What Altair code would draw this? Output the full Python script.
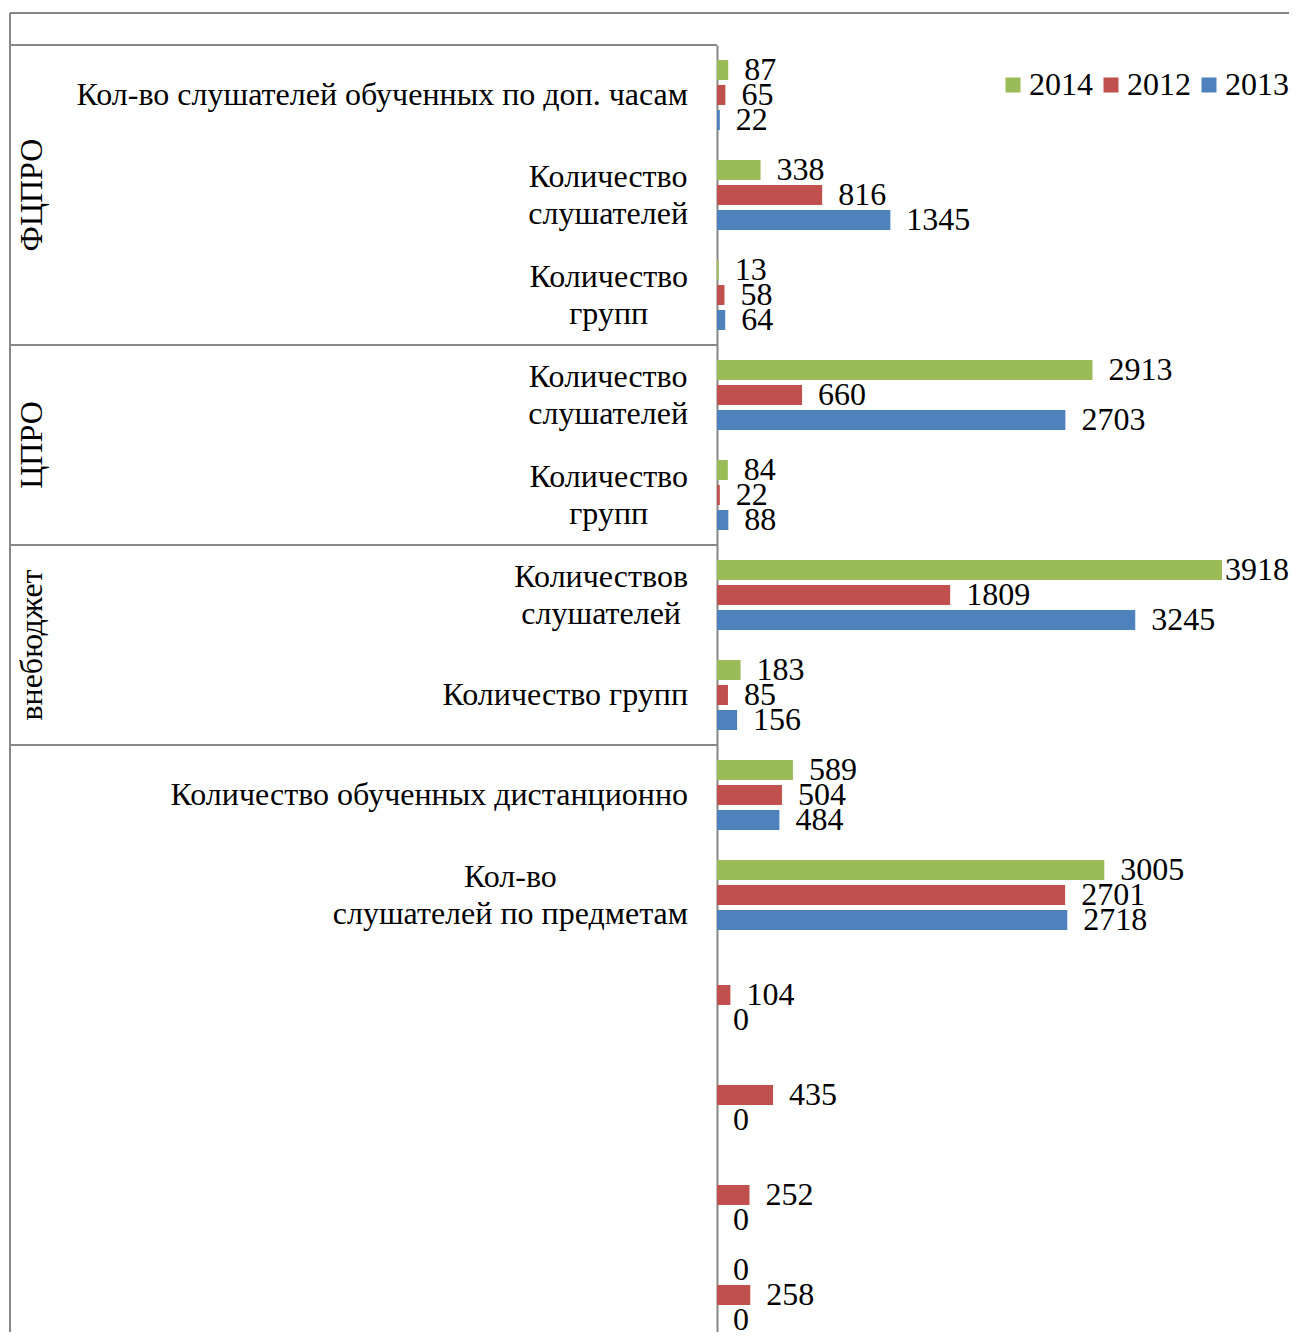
import glob
import altair as alt
import pandas as pd

# ---------------- data ----------------
group_names = ["ФЦПРО", "ЦПРО", "внебюджет", ""]
group_sizes = [3, 2, 2, 6]

row_labels = [
    "Кол-во слушателей обученных по доп. часам",
    "Количество\nслушателей",
    "Количество\nгрупп",
    "Количество\nслушателей",
    "Количество\nгрупп",
    "Количествов\nслушателей",
    "Количество групп",
    "Количество обученных дистанционно",
    "Кол-во\nслушателей по предметам",
    "",
    "",
    "",
    "",
]
years = ["2014", "2012", "2013"]
v2014 = [87, 338, 13, 2913, 84, 3918, 183, 589, 3005, None, None, None, 0]
v2012 = [65, 816, 58, 660, 22, 1809, 85, 504, 2701, 104, 435, 252, 258]
v2013 = [22, 1345, 64, 2703, 88, 3245, 156, 484, 2718, 0, 0, 0, 0]
colors = ["#9BBB59", "#C0504D", "#4F81BD"]

# ---------------- layout constants ----------------
FONT = "Liberation Serif"
FS = 32
LH = 37
GRAY = "#878787"
PAD_L, PAD_T = 709, 37       # plot origin inside the svg
RANGE_W, RANGE_H = 580, 1300  # extent of the scales
W, H = 572, 1287              # visible svg part (fits the page)
LEFT = -707                   # table left edge relative to plot
HEADER = -32                  # header line relative to plot top
LABEL_RIGHT = -29             # right edge of row labels


def measure(s):
    """Width of a string in the label font, if Pillow can measure it."""
    try:
        from PIL import ImageFont
    except Exception:
        return None
    paths = glob.glob("/usr/share/fonts/**/LiberationSerif-Regular.ttf", recursive=True)
    for p in paths:
        try:
            return ImageFont.truetype(p, FS).getlength(s)
        except Exception:
            pass
    return None


# ---------------- tables ----------------
n_rows = len(row_labels)
row_ids = list(range(n_rows))

recs = []
for yr, vals in zip(years, [v2014, v2012, v2013]):
    for i, v in enumerate(vals):
        if v is not None:
            recs.append({"row": i, "year": yr, "value": v})
bars_df = pd.DataFrame(recs)

line_recs = []
for i, lab in enumerate(row_labels):
    if not lab:
        continue
    lines = lab.split("\n")
    widths = [measure(t) for t in lines]
    if all(w is not None for w in widths):
        cx = LABEL_RIGHT - max(widths) / 2
        align = "center"
    else:
        cx = LABEL_RIGHT
        align = "right"
    for k, t in enumerate(lines):
        line_recs.append({
            "row": i, "text": t, "cx": cx, "align": align,
            "shift": (k - (len(lines) - 1) / 2) * LH,
        })
lines_df = pd.DataFrame(line_recs)

starts = []
acc = 0
for s in group_sizes:
    starts.append(acc)
    acc += s
grp_df = pd.DataFrame({
    "name": group_names,
    "mid": [st + s / 2 for st, s in zip(starts, group_sizes)],
})
sep_df = pd.DataFrame({"pos": starts})

# ---------------- encodings ----------------
band_scale = alt.Scale(domain=row_ids, paddingInner=0, paddingOuter=0, range=[0, RANGE_H])
y_off = alt.YOffset("year:N", scale=alt.Scale(domain=years, paddingInner=0.2, paddingOuter=0.6))
x_val = alt.X("value:Q", scale=alt.Scale(domain=[0, 4500], nice=False, zero=True,
                                         range=[0, RANGE_W]), axis=None)
q_scale = alt.Scale(domain=[0, n_rows], nice=False, zero=False, range=[0, RANGE_H])

base = alt.Chart(bars_df)

bars = base.mark_bar().encode(
    x=x_val,
    y=alt.Y("row:O", scale=band_scale,
            axis=alt.Axis(labels=False, ticks=False, title=None, grid=False,
                          domainColor=GRAY, domainWidth=2)),
    yOffset=y_off,
    color=alt.Color(
        "year:N",
        scale=alt.Scale(domain=years, range=colors),
        legend=alt.Legend(
            title=None, orient="none", legendX=280, legendY=24,
            direction="horizontal", symbolType="square", symbolSize=225,
            symbolStrokeWidth=0, labelFont=FONT, labelFontSize=FS,
            labelColor="black", columnPadding=2, labelOffset=0,
        ),
    ),
)

# labels sit 16px after the bar end, pulled back inside when they would overflow
values = base.mark_text(
    align="left", baseline="middle", font=FONT, fontSize=FS, color="black",
    dx=alt.expr("min(16, width - scale('x', datum.value) - 16*length(toString(datum.value)))"),
).encode(
    x=x_val,
    y=alt.Y("row:O", scale=band_scale, axis=None),
    yOffset=y_off,
    text=alt.Text("value:Q"),
)

line_base = alt.Chart(lines_df).encode(
    x=alt.X("cx:Q", scale=None),
    y=alt.Y("row:O", scale=band_scale, axis=None),
    text="text:N",
)
label_layers = []
for al in ["center", "right"]:
    for sh in sorted(lines_df["shift"].unique()):
        sub = line_base.transform_filter(
            (alt.datum.align == al) & (alt.datum.shift == float(sh))
        ).mark_text(align=al, baseline="middle", font=FONT, fontSize=FS,
                    color="black", dy=float(sh))
        label_layers.append(sub)

group_text = alt.Chart(grp_df).mark_text(
    angle=270, align="center", baseline="middle", font=FONT, fontSize=FS, color="black"
).encode(
    x=alt.value(-685),
    y=alt.Y("mid:Q", scale=q_scale, axis=None),
    text="name:N",
)

seps = alt.Chart(sep_df).mark_rule(color=GRAY, strokeWidth=2).encode(
    x=alt.value(LEFT), x2=alt.value(0),
    y=alt.Y("pos:Q", scale=q_scale, axis=None),
)

left_line = alt.Chart(sep_df).mark_rule(color=GRAY, strokeWidth=2).encode(
    x=alt.value(LEFT), y=alt.value(HEADER), y2=alt.value(RANGE_H),
)
top_line = alt.Chart(sep_df).mark_rule(color=GRAY, strokeWidth=2).encode(
    x=alt.value(LEFT), x2=alt.value(RANGE_W), y=alt.value(HEADER),
)

chart = alt.layer(
    bars, values, *label_layers, group_text, seps, left_line, top_line
).resolve_scale(
    y="independent"
).properties(
    width=W, height=H,
    padding={"left": PAD_L, "top": PAD_T, "right": 0, "bottom": 0},
    autosize=alt.AutoSizeParams(type="none"),
).configure_view(stroke=None)

chart.save("out.html", embed_options={"renderer": "svg", "actions": False})
